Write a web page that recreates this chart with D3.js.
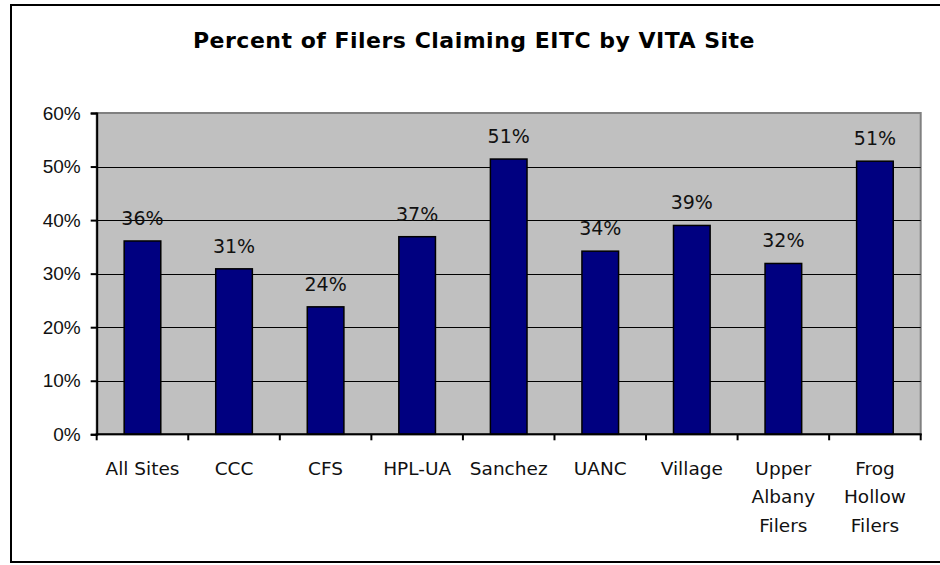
<!DOCTYPE html>
<html>
<head>
<meta charset="utf-8">
<script src="https://cdn.jsdelivr.net/npm/d3@7"></script>
<style>
  body { margin: 0; background: #fff; }
  svg { display: block; font-family: "DejaVu Sans", Verdana, sans-serif; }
</style>
</head>
<body>
<svg id="chart" width="940" height="565"></svg>
<script>
//  chart data
const title = "Percent of Filers Claiming EITC by VITA Site";
const sites = ["All Sites", "CCC", "CFS", "HPL-UA", "Sanchez", "UANC", "Village", "Upper Albany Filers", "Frog Hollow Filers"];
const eitc_share = [0.361, 0.309, 0.238, 0.369, 0.514, 0.342, 0.390, 0.319, 0.510];
const y_ticks = [0, 0.1, 0.2, 0.3, 0.4, 0.5, 0.6];

const margin = ({top: 113, right: 19.3, bottom: 130.7, left: 96.7});
const w = 940, h = 565;

const svg = d3.select("#chart");

//  outer frame (right side is cut off in the original)
svg.append("rect")
   .attr("x", 11).attr("y", 5)
   .attr("width", 960).attr("height", 557)
   .attr("fill", "#fff")
   .attr("stroke", "#000")
   .attr("stroke-width", 2);

const x = d3.scaleBand()
  .domain(sites)
  .range([margin.left, w - margin.right])
  .paddingInner(0.6)
  .paddingOuter(0.3);

const y = d3.scaleLinear()
  .domain([0, 0.6])
  .range([h - margin.bottom, margin.top]);

//  plot area
svg.append("rect")
   .attr("x", margin.left).attr("y", margin.top)
   .attr("width", w - margin.right - margin.left)
   .attr("height", y(0) - margin.top)
   .attr("fill", "#c0c0c0")
   .attr("stroke", "#808080")
   .attr("stroke-width", 2);

//  gridlines
svg.append("g")
   .selectAll("line")
   .data(y_ticks.filter(d => d > 0 && d < 0.6))
   .join("line")
   .attr("x1", margin.left).attr("x2", w - margin.right)
   .attr("y1", d => Math.round(y(d)) + 0.5).attr("y2", d => Math.round(y(d)) + 0.5)
   .attr("stroke", "#000")
   .attr("stroke-width", 1);

//  bars
svg.append("g")
   .selectAll("rect")
   .data(sites)
   .join("rect")
   .attr("x", d => x(d))
   .attr("y", (d, i) => y(eitc_share[i]))
   .attr("width", x.bandwidth())
   .attr("height", (d, i) => y(0) - y(eitc_share[i]))
   .attr("fill", "#000080")
   .attr("stroke", "#000")
   .attr("stroke-width", 1.5);

//  data labels
svg.append("g")
   .selectAll("text")
   .data(sites)
   .join("text")
   .attr("x", d => x(d) + x.bandwidth() / 2)
   .attr("y", (d, i) => y(eitc_share[i]) - 16)
   .attr("text-anchor", "middle")
   .attr("font-size", "19px")
   .attr("fill", "#111")
   .text((d, i) => Math.round(eitc_share[i] * 100) + "%");

//  y axis
const yAxis = g => g
  .attr("transform", `translate(${margin.left},0)`)
  .call(d3.axisLeft(y).tickValues(y_ticks).tickFormat(d3.format(".0%")).tickSize(6).tickPadding(10))
  .call(g => g.select(".domain").attr("stroke-width", 2))
  .call(g => g.selectAll(".tick line").attr("stroke-width", 2))
  .call(g => g.selectAll(".tick text").attr("font-size", "19px").attr("fill", "#111").attr("font-family", null));

svg.append("g").call(yAxis);

//  x axis line and ticks at category boundaries
const x0 = x.range()[0];
const boundaries = d3.range(sites.length + 1).map(i => x0 + i * x.step());

svg.append("line")
   .attr("x1", margin.left - 1).attr("x2", w - margin.right + 1)
   .attr("y1", y(0)).attr("y2", y(0))
   .attr("stroke", "#000")
   .attr("stroke-width", 2);

svg.append("g")
   .selectAll("line")
   .data(boundaries)
   .join("line")
   .attr("x1", d => d).attr("x2", d => d)
   .attr("y1", y(0)).attr("y2", y(0) + 6)
   .attr("stroke", "#000")
   .attr("stroke-width", 2);

//  category labels, wrapped like the original
function wrap_label(text, width) {
  text.each(function(d) {
    const t = d3.select(this);
    const words = d.split(" ");
    const lx = t.attr("x");
    let line = [];
    let lines = [];
    words.forEach(word => {
      line.push(word);
      t.text(line.join(" "));
      if (this.getComputedTextLength() > width && line.length > 1) {
        line.pop();
        lines.push(line.join(" "));
        line = [word];
      }
    });
    lines.push(line.join(" "));
    t.text(null);
    lines.forEach((l, i) => {
      t.append("tspan").attr("x", lx).attr("dy", i == 0 ? 0 : 28.3).text(l);
    });
  });
}

svg.append("g")
   .selectAll("text")
   .data(sites)
   .join("text")
   .attr("x", d => x(d) + x.bandwidth() / 2)
   .attr("y", 475)
   .attr("text-anchor", "middle")
   .attr("font-size", "18.5px")
   .attr("fill", "#111")
   .text(d => d)
   .call(wrap_label, 86);

//  title
svg.append("text")
   .attr("x", 474)
   .attr("y", 48.3)
   .attr("text-anchor", "middle")
   .attr("font-size", "22px")
   .attr("font-weight", "bold")
   .attr("letter-spacing", "0.5px")
   .attr("fill", "#000")
   .text(title);
</script>
</body>
</html>
